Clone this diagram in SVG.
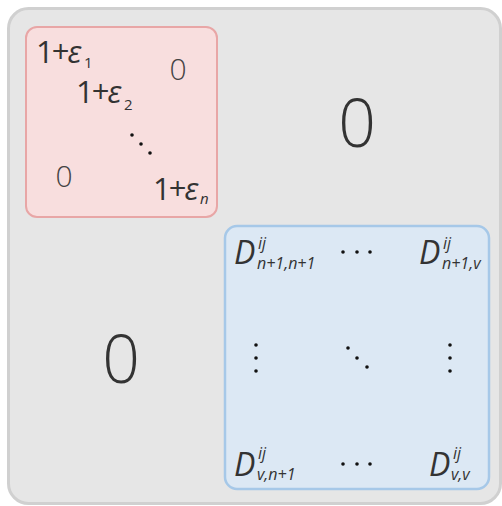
<svg xmlns="http://www.w3.org/2000/svg" width="502" height="506" viewBox="0 0 502 506">
<style>
  text { font-family: "Open Sans", "Noto Sans", "DejaVu Sans", sans-serif; fill: #333; }
  .num { font-size: 31px; letter-spacing: -2px; }
  .eps { font-style: italic; }
  .sub { font-size: 15px; letter-spacing: 0; }
  .it { font-style: italic; }
  .D { font-size: 32px; font-style: italic; }
  .s { font-size: 16px; font-style: italic; }
  .zero { font-size: 30px; font-weight: 300; fill: #444; }
  .big { font-size: 66px; font-weight: 300; fill: #333; }
  .dot { fill: #111; }
</style>
<g id="outer">
  <rect x="8.5" y="8.5" width="492" height="495" rx="20" fill="#e6e6e6" stroke="#d0d0d0" stroke-width="3"/>
</g>
<g id="block-eps">
  <rect x="26" y="27" width="191" height="190" rx="11" fill="#f8dede" stroke="#e8a6a6" stroke-width="2"/>
  <text class="num" x="36" y="63">1+<tspan class="eps">ε</tspan><tspan class="sub" x="84" dy="5">1</tspan></text>
  <text class="num" x="76" y="103">1+<tspan class="eps">ε</tspan><tspan class="sub" x="124" dy="7">2</tspan></text>
  <text class="zero" x="178" y="80" text-anchor="middle">0</text>
  <text class="zero" x="64" y="187" text-anchor="middle">0</text>
  <circle class="dot" cx="132" cy="135" r="1.8"/>
  <circle class="dot" cx="141" cy="144" r="1.8"/>
  <circle class="dot" cx="150" cy="153" r="1.8"/>
  <text class="num" x="153" y="200">1+<tspan class="eps">ε</tspan><tspan class="sub it" x="200" dy="4">n</tspan></text>
</g>
<g id="zero-top-right">
  <text class="big" x="357" y="147" text-anchor="middle">0</text>
</g>
<g id="zero-bottom-left">
  <text class="big" x="121" y="383" text-anchor="middle">0</text>
</g>
<g id="block-D">
  <rect x="225" y="226" width="264" height="263" rx="12" fill="#dce8f4" stroke="#a6c8e8" stroke-width="2.5"/>
  <text class="D" x="234" y="264">D<tspan class="s" x="258" y="249">ij</tspan><tspan class="s" x="257" y="269">n+1,n+1</tspan></text>
  <circle class="dot" cx="343" cy="252" r="1.8"/>
  <circle class="dot" cx="357" cy="252" r="1.8"/>
  <circle class="dot" cx="370" cy="252" r="1.8"/>
  <text class="D" x="419" y="264">D<tspan class="s" x="443" y="249">ij</tspan><tspan class="s" x="442" y="269">n+1,v</tspan></text>
  <circle class="dot" cx="256" cy="345" r="1.8"/>
  <circle class="dot" cx="256" cy="358" r="1.8"/>
  <circle class="dot" cx="256" cy="371" r="1.8"/>
  <circle class="dot" cx="348" cy="348" r="1.8"/>
  <circle class="dot" cx="357" cy="358" r="1.8"/>
  <circle class="dot" cx="367" cy="367" r="1.8"/>
  <circle class="dot" cx="450" cy="345" r="1.8"/>
  <circle class="dot" cx="450" cy="358" r="1.8"/>
  <circle class="dot" cx="450" cy="371" r="1.8"/>
  <text class="D" x="234" y="476">D<tspan class="s" x="258" y="459">ij</tspan><tspan class="s" x="257" y="480">v,n+1</tspan></text>
  <circle class="dot" cx="343" cy="464" r="1.8"/>
  <circle class="dot" cx="357" cy="464" r="1.8"/>
  <circle class="dot" cx="370" cy="464" r="1.8"/>
  <text class="D" x="429" y="476">D<tspan class="s" x="453" y="459">ij</tspan><tspan class="s" x="451" y="480">v,v</tspan></text>
</g>
</svg>
